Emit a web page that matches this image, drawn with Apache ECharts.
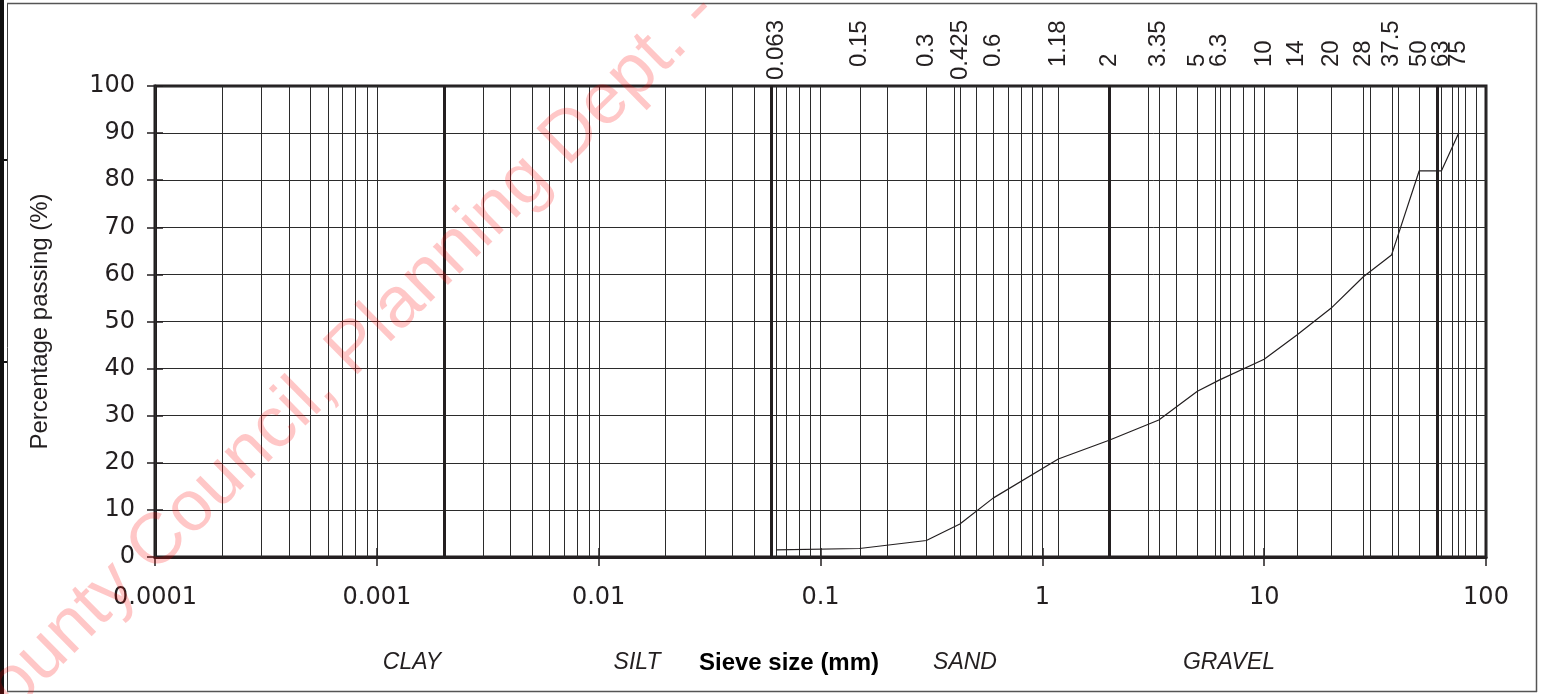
<!DOCTYPE html>
<html>
<head>
<meta charset="utf-8">
<script src="https://cdn.jsdelivr.net/npm/echarts@6/dist/echarts.min.js"></script>
<style>
html,body{margin:0;padding:0;background:#fff;}
#chart{width:1542px;height:694px;}
</style>
</head>
<body>
<div id="chart"></div>
<script>
// ---- data ----
const sieveSizes = [0.063, 0.15, 0.3, 0.425, 0.6, 1.18, 2, 3.35, 5, 6.3, 10, 14, 20, 28, 37.5, 50, 63, 75];
const sieveLabels = ['0.063','0.15','0.3','0.425','0.6','1.18','2','3.35','5','6.3','10','14','20','28','37.5','50','63','75'];
const passing = [1.5, 1.8, 3.5, 7, 12.5, 20.8, 24.8, 29.1, 35.2, 37.6, 42, 47.1, 52.8, 59.5, 64.1, 82, 82, 89.8];
const xTickLabels = ['0.0001','0.001','0.01','0.1','1','10','100'];
const boundaries = [0.002, 0.06, 2, 60];
const zoneLabels = ['CLAY','SILT','SAND','GRAVEL'];
const xName = 'Sieve size (mm)';
const yName = 'Percentage passing (%)';
const watermark = 'County Council, Planning Dept. -';

// standard log-paper grid lines (1..9 of each decade)
const decades = [0.0001, 0.001, 0.01, 0.1, 1, 10];
const logGrid = [];
decades.forEach(d => { for (let k = 1; k <= 9; k++) logGrid.push(+(k * d).toPrecision(3)); });
logGrid.push(100);

const INK = '#231f20';
const chart = echarts.init(document.getElementById('chart'));

function vLine(width, color) {
  return function (params, api) {
    const v = api.value(0);
    const p0 = api.coord([v, 0]);
    const p1 = api.coord([v, 100]);
    const x = width % 2 === 1 ? Math.round(p0[0]) + 0.5 : Math.round(p0[0]);
    return {type: 'line', shape: {x1: x, y1: p0[1], x2: x, y2: p1[1]},
            style: {stroke: color, lineWidth: width}, silent: true};
  };
}

function topLabel(params, api) {
  const i = params.dataIndex;
  const p = api.coord([api.value(0), 100]);
  const txt = sieveLabels[i];
  const gap = txt.length >= 5 ? 6 : 19;
  return {type: 'text', x: p[0], y: p[1] - gap, rotation: Math.PI / 2, silent: true,
          style: {text: txt, fontFamily: 'Liberation Sans', fontSize: 24, fill: INK,
                  align: 'left', verticalAlign: 'middle'}};
}

const zoneX = [412, 637, 965, 1229];

const option = {
  animation: false,
  backgroundColor: '#ffffff',
  grid: {left: 155, right: 56, top: 86, bottom: 137, show: true, borderColor: INK, borderWidth: 3, backgroundColor: 'transparent', containLabel: false},
  xAxis: [{
    type: 'log', logBase: 10, min: 0.0001, max: 100,
    axisLine: {show: true, lineStyle: {color: INK, width: 3}},
    axisTick: {show: true, length: 9, lineStyle: {color: INK, width: 1.5}},
    axisLabel: {formatter: (v, i) => xTickLabels[i], fontFamily: 'DejaVu Sans', fontSize: 24, color: INK, margin: 29},
    splitLine: {show: false}
  }, {
    type: 'log', logBase: 10, min: 0.0001, max: 100, position: 'bottom',
    axisLine: {show: false},
    axisTick: {show: true, inside: true, length: 9, lineStyle: {color: INK, width: 1.5}},
    axisLabel: {show: false}, splitLine: {show: false}
  }],
  yAxis: [{
    type: 'value', min: 0, max: 100, interval: 10,
    name: yName, nameLocation: 'middle', nameRotate: 90, nameGap: 103,
    nameTextStyle: {fontFamily: 'Liberation Sans', fontSize: 24, color: INK},
    axisLine: {show: true, lineStyle: {color: INK, width: 3}},
    axisTick: {show: true, length: 8, lineStyle: {color: INK, width: 1.5}},
    axisLabel: {fontFamily: 'DejaVu Sans', fontSize: 24, color: INK, margin: 20},
    splitLine: {show: true, lineStyle: {color: '#2b2b2b', width: 1}}
  }, {
    type: 'value', min: 0, max: 100, interval: 10, position: 'left',
    axisLine: {show: false},
    axisTick: {show: true, inside: true, length: 8, lineStyle: {color: INK, width: 1.5}},
    axisLabel: {show: false}, splitLine: {show: false}
  }],
  series: [{
    type: 'custom', silent: true, z: 1, clip: false,
    data: logGrid.map(v => [v]).concat(sieveSizes.map(v => [v])),
    encode: {x: 0},
    renderItem: vLine(1, '#2b2b2b')
  }, {
    type: 'custom', silent: true, z: 2, clip: false,
    data: boundaries.map(v => [v]),
    encode: {x: 0},
    renderItem: vLine(3, INK)
  }, {
    type: 'custom', silent: true, z: 3, clip: false,
    data: sieveSizes.map(v => [v]),
    encode: {x: 0},
    renderItem: topLabel
  }, {
    type: 'line', data: sieveSizes.map((s, i) => [s, passing[i]]),
    showSymbol: false, symbol: 'none', silent: true, z: 5,
    lineStyle: {color: INK, width: 1.2}
  }],
  graphic: [
    // outer frame
    {type: 'rect', shape: {x: 0, y: 0, width: 4, height: 694}, style: {fill: '#111'}, silent: true},
    {type: 'line', shape: {x1: 7.5, y1: 3, x2: 7.5, y2: 692}, style: {stroke: '#444', lineWidth: 1}, silent: true},
    {type: 'line', shape: {x1: 7, y1: 3.5, x2: 1537, y2: 3.5}, style: {stroke: '#555', lineWidth: 1.5}, silent: true},
    {type: 'line', shape: {x1: 1536.5, y1: 3, x2: 1536.5, y2: 692}, style: {stroke: '#555', lineWidth: 1.5}, silent: true},
    {type: 'line', shape: {x1: 7, y1: 691.5, x2: 1537, y2: 691.5}, style: {stroke: '#555', lineWidth: 1.5}, silent: true},
    {type: 'line', shape: {x1: 0, y1: 160, x2: 7, y2: 160}, style: {stroke: '#111', lineWidth: 2}, silent: true},
    {type: 'line', shape: {x1: 0, y1: 362, x2: 7, y2: 362}, style: {stroke: '#111', lineWidth: 2}, silent: true},
    // zone labels and axis title
    ...zoneLabels.map((t, i) => ({
      type: 'text', x: zoneX[i], y: 663, silent: true,
      style: {text: t, fontFamily: 'Liberation Sans', fontStyle: 'italic', fontSize: 23, fill: INK, align: 'center', verticalAlign: 'middle'}
    })),
    {type: 'text', x: 789, y: 663, silent: true,
     style: {text: xName, fontFamily: 'Liberation Sans', fontWeight: 'bold', fontSize: 24, fill: '#000', align: 'center', verticalAlign: 'middle'}},
    // watermark
    {type: 'text', x: -37, y: 735, rotation: 0.778, z: 100, silent: true,
     style: {text: watermark, fontFamily: 'Liberation Sans', fontSize: 72, fill: 'rgba(255,0,0,0.22)', align: 'left', verticalAlign: 'middle'}}
  ]
};
chart.setOption(option);
</script>
</body>
</html>
